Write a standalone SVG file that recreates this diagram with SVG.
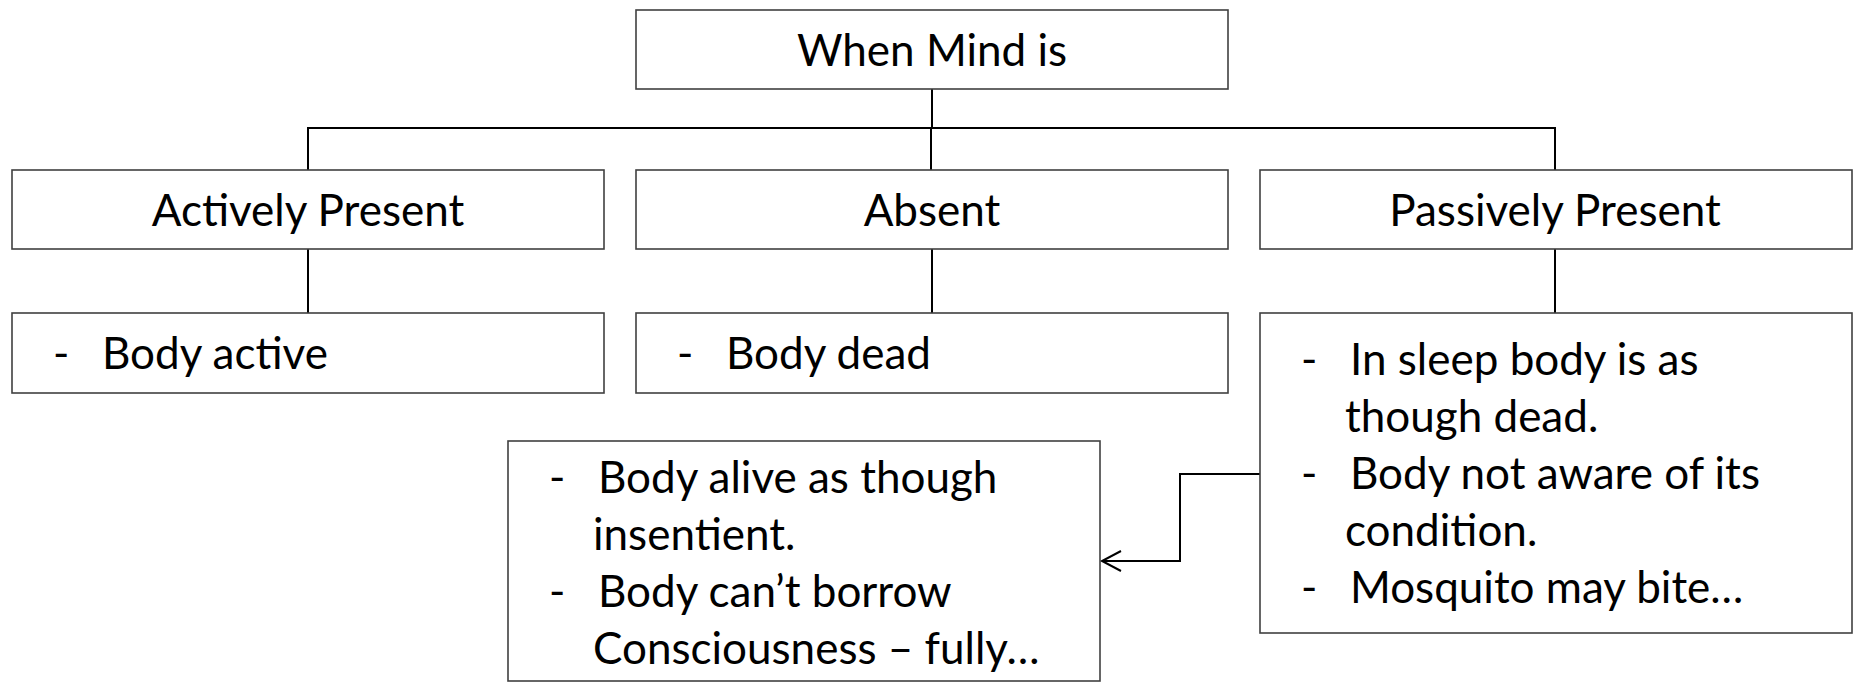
<svg xmlns="http://www.w3.org/2000/svg" width="1860" height="682" viewBox="0 0 1860 682">
  <style>
    .box { fill: #ffffff; stroke: #404040; stroke-width: 1.6; }
    .lbl { font-family: Lato, "Open Sans", sans-serif; font-size: 44px; fill: #000000; }
    .mid { text-anchor: middle; }
    .link { fill: none; stroke: #000000; stroke-width: 2; }
  </style>
  <defs>
    <!-- open chevron head; tip sits on the path end -->
    <marker id="open-arrow" viewBox="0 0 24 24" refX="21" refY="12" markerWidth="24" markerHeight="24" markerUnits="userSpaceOnUse" orient="auto" overflow="visible">
      <path d="M 2 2 L 21 12 L 2 22" fill="none" stroke="#000000" stroke-width="2"/>
    </marker>
  </defs>

  <rect width="1860" height="682" fill="#ffffff"/>

  <g id="connectors">
    <path class="link" d="M 932 89 L 932 128"/>
    <path class="link" d="M 308 170 L 308 128 L 1555 128 L 1555 170"/>
    <path class="link" d="M 931 128 L 931 170"/>
    <path class="link" d="M 308 249 L 308 313"/>
    <path class="link" d="M 932 249 L 932 313"/>
    <path class="link" d="M 1555 249 L 1555 313"/>
    <path class="link" d="M 1260 474 L 1180 474 L 1180 561 L 1102 561" marker-end="url(#open-arrow)"/>
  </g>

  <g id="node-root">
    <rect class="box" x="636" y="10" width="592" height="79"/>
    <text class="lbl mid" x="932" y="66">When Mind is</text>
  </g>

  <g id="node-active">
    <rect class="box" x="12" y="170" width="592" height="79"/>
    <text class="lbl mid" x="308" y="226">Actively Present</text>
  </g>

  <g id="node-absent">
    <rect class="box" x="636" y="170" width="592" height="79"/>
    <text class="lbl mid" x="932" y="226">Absent</text>
  </g>

  <g id="node-passive">
    <rect class="box" x="1260" y="170" width="592" height="79"/>
    <text class="lbl mid" x="1555" y="226">Passively Present</text>
  </g>

  <g id="node-active-detail">
    <rect class="box" x="12" y="313" width="592" height="80"/>
    <text class="lbl" x="53" y="369">-</text>
    <text class="lbl" x="102" y="369">Body active</text>
  </g>

  <g id="node-absent-detail">
    <rect class="box" x="636" y="313" width="592" height="80"/>
    <text class="lbl" x="677" y="369">-</text>
    <text class="lbl" x="726" y="369">Body dead</text>
  </g>

  <g id="node-passive-detail">
    <rect class="box" x="1260" y="313" width="592" height="320"/>
    <text class="lbl" x="1301" y="375">-</text>
    <text class="lbl" x="1350" y="375">In sleep body is as</text>
    <text class="lbl" x="1345" y="432">though dead.</text>
    <text class="lbl" x="1301" y="489">-</text>
    <text class="lbl" x="1350" y="489">Body not aware of its</text>
    <text class="lbl" x="1345" y="546">condition.</text>
    <text class="lbl" x="1301" y="603">-</text>
    <text class="lbl" x="1350" y="603">Mosquito may bite…</text>
  </g>

  <g id="node-insentient">
    <rect class="box" x="508" y="441" width="592" height="240"/>
    <text class="lbl" x="549" y="493">-</text>
    <text class="lbl" x="598" y="493">Body alive as though</text>
    <text class="lbl" x="593" y="550">insentient.</text>
    <text class="lbl" x="549" y="607">-</text>
    <text class="lbl" x="598" y="607">Body can’t borrow</text>
    <text class="lbl" x="593" y="664">Consciousness – fully…</text>
  </g>
</svg>
